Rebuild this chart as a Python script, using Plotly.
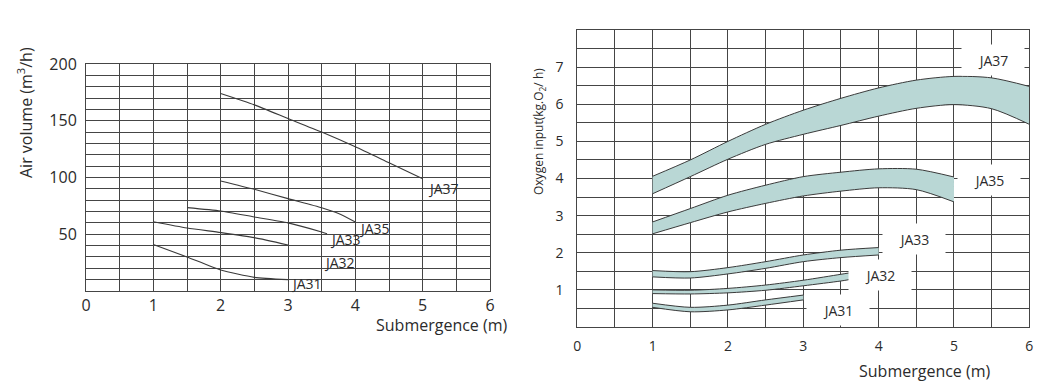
import plotly.graph_objects as go

# ---------------- data ----------------
# Left chart: Air volume (m3/h) vs submergence (m)
air_x37 = [2, 2.5, 3, 3.5, 4, 4.5, 5]
air_y37 = [174, 164, 152, 140, 127, 113, 99]
air_x35 = [2, 2.5, 3, 3.5, 3.75, 4]
air_y35 = [97, 89.6, 81.4, 73.4, 68.3, 60.8]
air_x33 = [1.5, 2, 2.5, 3, 3.5, 3.58]
air_y33 = [73.5, 70.5, 65.2, 60, 52, 50.5]
air_x32 = [1, 1.5, 2, 2.5, 3]
air_y32 = [61, 55.5, 51.5, 47, 40.5]
air_x31 = [1, 1.5, 2, 2.5, 3]
air_y31 = [41, 30, 18.5, 12, 10]

# Right chart: Oxygen input (kgO2/h) bands (upper / lower) vs submergence (m)
ox_x37 = [1, 1.5, 2, 2.5, 3, 3.5, 4, 4.5, 5, 5.5, 6]
ox_hi37 = [4.06, 4.5, 5.0, 5.46, 5.84, 6.16, 6.44, 6.65, 6.75, 6.71, 6.48]
ox_lo37 = [3.59, 4.05, 4.52, 4.92, 5.19, 5.43, 5.68, 5.89, 5.99, 5.88, 5.46]
ox_x35 = [1, 1.5, 2, 2.5, 3, 3.5, 4, 4.5, 5]
ox_hi35 = [2.83, 3.19, 3.55, 3.82, 4.05, 4.17, 4.26, 4.25, 4.04]
ox_lo35 = [2.51, 2.81, 3.10, 3.33, 3.53, 3.66, 3.75, 3.70, 3.37]
ox_x33 = [1, 1.5, 2, 2.5, 3, 3.5, 4]
ox_hi33 = [1.52, 1.49, 1.60, 1.76, 1.94, 2.07, 2.14]
ox_lo33 = [1.35, 1.32, 1.43, 1.58, 1.76, 1.87, 1.94]
ox_x32 = [1, 1.5, 2, 2.5, 3, 3.5, 3.62]
ox_hi32 = [1.00, 0.99, 1.04, 1.13, 1.26, 1.42, 1.46]
ox_lo32 = [0.90, 0.89, 0.92, 0.99, 1.11, 1.24, 1.28]
ox_x31 = [1, 1.5, 2, 2.5, 3]
ox_hi31 = [0.64, 0.53, 0.59, 0.73, 0.86]
ox_lo31 = [0.53, 0.41, 0.46, 0.59, 0.73]

models = ["JA37", "JA35", "JA33", "JA32", "JA31"]

# ticks
x_ticks = [0, 1, 2, 3, 4, 5, 6]
x_ticklabels = ["0", "1", "2", "3", "4", "5", "6"]
air_ticks = [50, 100, 150, 200]
air_ticklabels = ["50", "100", "150", "200"]
ox_ticks = [1, 2, 3, 4, 5, 6, 7]
ox_ticklabels = ["1", "2", "3", "4", "5", "6", "7"]

# ---------------- style ----------------
FONT = "Open Sans"
TXT = "#2b2b2b"
GRID = "#454545"
LINE = "#3a3a3a"
FILL = "#b9d7d5"
W, H = 1052, 388

fig = go.Figure()

# left chart lines
air_series = [(air_x37, air_y37), (air_x35, air_y35), (air_x33, air_y33),
              (air_x32, air_y32), (air_x31, air_y31)]
for (xs, ys) in air_series:
    fig.add_trace(go.Scatter(x=xs, y=ys, mode="lines", xaxis="x", yaxis="y",
                             line=dict(color=LINE, width=1.1, shape="spline", smoothing=0.6),
                             showlegend=False, hoverinfo="skip"))

# right chart bands
ox_series = [(ox_x37, ox_hi37, ox_lo37), (ox_x35, ox_hi35, ox_lo35),
             (ox_x33, ox_hi33, ox_lo33), (ox_x32, ox_hi32, ox_lo32),
             (ox_x31, ox_hi31, ox_lo31)]
for (xs, hi, lo) in ox_series:
    fig.add_trace(go.Scatter(x=xs, y=lo, mode="lines", xaxis="x2", yaxis="y2",
                             line=dict(color=LINE, width=1, shape="spline", smoothing=0.8),
                             showlegend=False, hoverinfo="skip"))
    fig.add_trace(go.Scatter(x=xs, y=hi, mode="lines", xaxis="x2", yaxis="y2",
                             fill="tonexty", fillcolor=FILL,
                             line=dict(color=LINE, width=1, shape="spline", smoothing=0.8),
                             showlegend=False, hoverinfo="skip"))


def px2paper(px, py):
    return px / W, 1 - py / H


lx0, ly0 = px2paper(86, 291)
lx1, ly1 = px2paper(490, 64)
rx0, ry0 = px2paper(577.3, 327)
rx1, ry1 = px2paper(1029.3, 30)


def axis_style(size):
    return dict(showgrid=True, gridcolor=GRID, gridwidth=1, zeroline=False,
                showline=True, mirror=True, linecolor=GRID, linewidth=1,
                ticks="", automargin=False,
                tickfont=dict(family=FONT, size=size, color=TXT))


fig.update_layout(
    template="none",
    width=W, height=H,
    margin=dict(l=0, r=0, t=0, b=0, autoexpand=False),
    paper_bgcolor="white", plot_bgcolor="white",
    font=dict(family=FONT, color=TXT),
    xaxis=dict(domain=[lx0, lx1], range=[0, 6], tickvals=x_ticks, ticktext=x_ticklabels,
               minor=dict(dtick=0.5, tick0=0, showgrid=True, gridcolor=GRID, gridwidth=1),
               ticklabelstandoff=0, anchor="y", **axis_style(16)),
    yaxis=dict(domain=[ly0, ly1], range=[0, 200], tickvals=air_ticks, ticktext=air_ticklabels,
               minor=dict(dtick=10, tick0=0, showgrid=True, gridcolor=GRID, gridwidth=1),
               ticklabelstandoff=5, anchor="x", **axis_style(16)),
    xaxis2=dict(domain=[rx0, rx1], range=[0, 6], tickvals=x_ticks, ticktext=x_ticklabels,
                minor=dict(dtick=0.5, tick0=0, showgrid=True, gridcolor=GRID, gridwidth=1),
                ticklabelstandoff=6, anchor="y2", **axis_style(14)),
    yaxis2=dict(domain=[ry0, ry1], range=[0, 8], tickvals=ox_ticks, ticktext=ox_ticklabels,
                minor=dict(dtick=0.5, tick0=0, showgrid=True, gridcolor=GRID, gridwidth=1),
                ticklabelstandoff=10, anchor="x2", **axis_style(14)),
)

ann = []
# left labels (data coords, left-anchored)
left_label_pos = [(5.05, 90.5), (4.03, 55.5), (3.6, 45.5), (3.51, 25), (3.02, 6.5)]
for name, (x, y) in zip(models, left_label_pos):
    ann.append(dict(x=x, y=y, xref="x", yref="y", text=name, showarrow=False,
                    xanchor="left", yanchor="middle", font=dict(family=FONT, size=14, color=TXT)))

# right labels with white boxes
right_label_pos = [(5.52, 7.18), (5.47, 3.95), (4.47, 2.37), (4.02, 1.40), (3.46, 0.46)]
for name, (x, y) in zip(models, right_label_pos):
    ann.append(dict(x=x, y=y, xref="x2", yref="y2", text=name, showarrow=False,
                    xanchor="center", yanchor="middle", bgcolor="white",
                    width=60, height=28, font=dict(family=FONT, size=14, color=TXT)))

# axis titles
ax, ay = px2paper(25, 113)
ann.append(dict(x=ax, y=ay, xref="paper", yref="paper", text="Air volume (m<sup>3</sup>/h)",
                textangle=-90, showarrow=False, xanchor="center", yanchor="middle",
                font=dict(family=FONT, size=16, color=TXT)))
ax, ay = px2paper(442, 325)
ann.append(dict(x=ax, y=ay, xref="paper", yref="paper", text="Submergence (m)",
                showarrow=False, xanchor="center", yanchor="middle",
                font=dict(family=FONT, size=16, color=TXT)))
ax, ay = px2paper(539, 132)
ann.append(dict(x=ax, y=ay, xref="paper", yref="paper", text="Oxygen input(kg.O<sub>2</sub>/ h)",
                textangle=-90, showarrow=False, xanchor="center", yanchor="middle",
                font=dict(family=FONT, size=12, color=TXT)))
ax, ay = px2paper(925, 371)
ann.append(dict(x=ax, y=ay, xref="paper", yref="paper", text="Submergence (m)",
                showarrow=False, xanchor="center", yanchor="middle",
                font=dict(family=FONT, size=16, color=TXT)))

fig.update_layout(annotations=ann)
fig.write_html("out.html",
               config={"displayModeBar": False},
               post_script="document.body.style.margin='0';document.body.style.overflow='hidden';")
